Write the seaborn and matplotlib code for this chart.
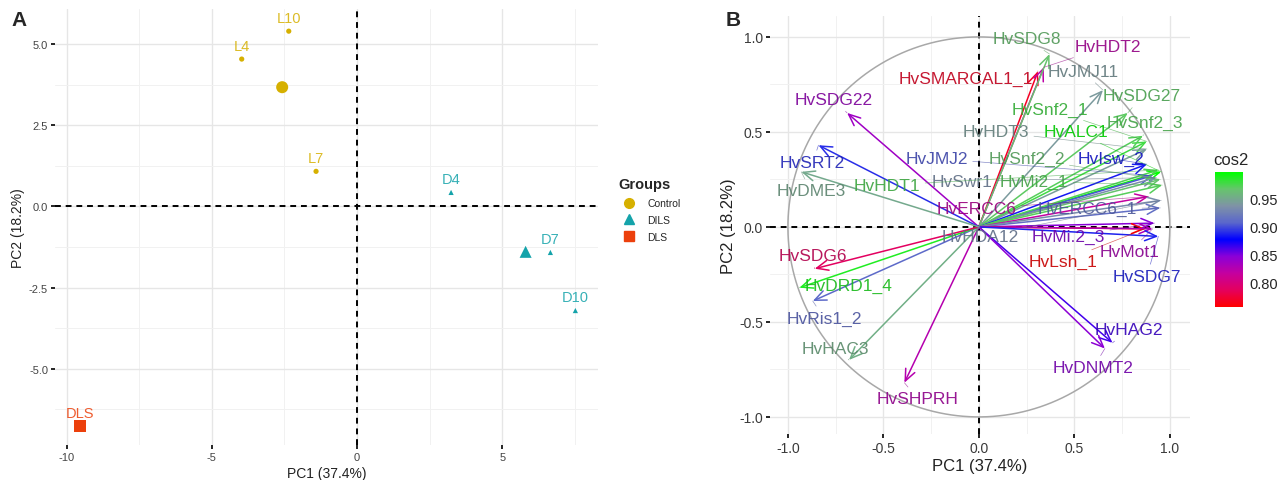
import numpy as np
import pandas as pd
import matplotlib
matplotlib.use("Agg")
import matplotlib.pyplot as plt
import seaborn as sns
from matplotlib.colors import LinearSegmentedColormap, Normalize, to_rgb
from matplotlib.cm import ScalarMappable
from matplotlib.lines import Line2D
from matplotlib.ticker import MultipleLocator

# ---- panel A: individuals on PC1/PC2 ----
samples = ["L4", "L7", "L10", "D4", "D7", "D10", "DLS"]
groups = ["Control", "Control", "Control", "DILS", "DILS", "DILS", "DLS"]
pc1 = [-3.97, -1.41, -2.35, 3.24, 6.66, 7.52, -9.55]
pc2 = [4.54, 1.08, 5.40, 0.43, -1.42, -3.21, -6.76]
group_order = ["Control", "DILS", "DLS"]

# ---- panel B: variable loadings ----
genes = ["HvSMARCAL1_1", "HvHDT2", "HvSDG8", "HvJMJ11", "HvSDG27", "HvSnf2_1",
         "HvSnf2_3", "HvHDT3", "HvALC1", "HvJMJ2", "HvSnf2_2", "HvIsw_2",
         "HvSwr1", "HvMi2_1", "HvHDT1", "HvERCC6", "HvERCC6_1", "HvHDA12",
         "HvMi.2_3", "HvLsh_1", "HvMot1", "HvSDG7", "HvHAG2", "HvDNMT2",
         "HvSHPRH", "HvHAC3", "HvRis1_2", "HvDRD1_4", "HvSDG6", "HvSDG22",
         "HvSRT2", "HvDME3"]
dim1 = [0.31, 0.34, 0.37, 0.65, 0.78, 0.88, 0.86, 0.88, 0.955, 0.91, 0.95, 0.88,
        0.93, 0.96, 0.94, 0.89, 0.95, 0.955, 0.92, 0.87, 0.91, 0.94, 0.70, 0.66,
        -0.39, -0.68, -0.87, -0.94, -0.86, -0.69, -0.84, -0.93]
dim2 = [0.82, 0.84, 0.91, 0.72, 0.60, 0.45, 0.48, 0.41, 0.29, 0.27, 0.25, 0.33,
        0.26, 0.22, 0.30, 0.16, 0.10, 0.14, 0.02, -0.01, -0.01, -0.05, -0.61, -0.64,
        -0.82, -0.70, -0.39, -0.32, -0.22, 0.60, 0.43, 0.29]

# repelled label placement (data units)
label_x = [-0.07, 0.675, 0.25, 0.545, 0.855, 0.37, 0.87, 0.09, 0.51, -0.22, 0.25, 0.69,
           -0.09, 0.29, -0.48, -0.01, 0.57, 0.005, 0.47, 0.44, 0.79, 0.88, 0.785, 0.60,
           -0.32, -0.75, -0.81, -0.68, -0.87, -0.76, -0.87, -0.88]
label_y = [0.78, 0.95, 0.99, 0.82, 0.69, 0.62, 0.55, 0.50, 0.50, 0.36, 0.36, 0.36,
           0.24, 0.24, 0.22, 0.095, 0.095, -0.05, -0.05, -0.18, -0.13, -0.26, -0.54, -0.74,
           -0.905, -0.64, -0.48, -0.31, -0.15, 0.67, 0.34, 0.19]

palette = {"Control": "#D6B000", "DILS": "#14A3AA", "DLS": "#EC400C"}
markers = {"Control": "o", "DILS": "^", "DLS": "s"}

sns.set_theme(style="white")
plt.rcParams["font.family"] = ["Liberation Sans", "DejaVu Sans"]
plt.rcParams["axes.unicode_minus"] = False

fig = plt.figure(figsize=(12.88, 4.81), dpi=100)
axA = fig.add_axes([0.0427, 0.073, 0.4216, 0.906])
axB = fig.add_axes([0.5978, 0.0956, 0.326, 0.869])
cax = fig.add_axes([0.943, 0.3597, 0.0217, 0.2807])

ind = pd.DataFrame({"sample": samples, "group": groups, "PC1": pc1, "PC2": pc2})
centers = ind.groupby("group", sort=False)[["PC1", "PC2"]].mean().reset_index()


def minimal_grid(ax, major, minor):
    ax.xaxis.set_major_locator(MultipleLocator(major[0]))
    ax.yaxis.set_major_locator(MultipleLocator(major[1]))
    ax.xaxis.set_minor_locator(MultipleLocator(minor[0]))
    ax.yaxis.set_minor_locator(MultipleLocator(minor[1]))
    ax.grid(which="major", color="#E6E6E6", lw=1.0)
    ax.grid(which="minor", color="#F1F1F1", lw=0.7)
    ax.set_axisbelow(True)
    for s in ax.spines.values():
        s.set_visible(False)
    ax.tick_params(which="major", length=3, width=1.2, color="black", direction="out",
                   bottom=True, left=True)
    ax.tick_params(which="minor", length=0)


# ---- panel A ----
minimal_grid(axA, (5, 2.5), (2.5, 1.25))
axA.axhline(0, color="black", ls=(0, (3, 2.5)), lw=1.4, zorder=1)
axA.axvline(0, color="black", ls=(0, (3, 2.5)), lw=1.4, zorder=1)
sns.scatterplot(data=ind, x="PC1", y="PC2", hue="group", style="group",
                palette=palette, markers=markers, hue_order=group_order,
                style_order=group_order, s=14, edgecolor="none", legend=False,
                ax=axA, zorder=3)
sns.scatterplot(data=centers, x="PC1", y="PC2", hue="group", style="group",
                palette=palette, markers=markers, hue_order=group_order,
                style_order=group_order, s=75, edgecolor="none", legend=False,
                ax=axA, zorder=4)
for _, r in ind.iterrows():
    axA.annotate(r["sample"], (r["PC1"], r["PC2"]), xytext=(0, 9.5),
                 textcoords="offset points", ha="center", va="center",
                 fontsize=10.5, color=palette[r["group"]], alpha=0.85)
axA.set_xlim(-10.4, 8.3)
axA.set_ylim(-7.35, 6.08)
axA.set_xlabel("PC1 (37.4%)", fontsize=10, color="#222222", labelpad=3)
axA.set_ylabel("PC2 (18.2%)", fontsize=10, color="#222222", labelpad=3)
axA.tick_params(labelsize=8, labelcolor="#444444", pad=2)
axA.set_yticks([-5, -2.5, 0, 2.5, 5])
axA.set_yticklabels(["-5.0", "-2.5", "0.0", "2.5", "5.0"])

handles = [Line2D([], [], marker=markers[g], color=palette[g], ls="none", markersize=7)
           for g in group_order]
leg = axA.legend(handles, group_order, title="Groups", loc="center left",
                 bbox_to_anchor=(1.02, 0.54), frameon=False, fontsize=7.5,
                 title_fontproperties={"weight": "bold", "size": 10.5},
                 handletextpad=0.8, labelspacing=0.65)
leg._legend_box.align = "left"

fig.text(0.009, 0.945, "A", fontsize=15, fontweight="bold")

# ---- panel B ----
minimal_grid(axB, (0.5, 0.5), (0.25, 0.25))
cos2 = np.array(dim1) ** 2 + np.array(dim2) ** 2
cmap = LinearSegmentedColormap.from_list(
    "cos2", ["#FF0000", "#E4005E", "#C400A0", "#8A00D8", "#0000FF",
             "#5A66CC", "#7F93A6", "#66C56C", "#00FF00"])
norm = Normalize(vmin=cos2.min(), vmax=cos2.max())


def text_col(c):
    # label text reads a little darker than the arrow strokes
    r, g, b = to_rgb(cmap(norm(c)))
    return (r * 0.78, g * 0.78, b * 0.78)


theta = np.linspace(0, 2 * np.pi, 400)
sns.lineplot(x=np.cos(theta), y=np.sin(theta), sort=False, estimator=None,
             color="#A8A8A8", lw=1.1, ax=axB, zorder=2)
axB.axhline(0, color="black", ls=(0, (3, 2.5)), lw=1.4, zorder=1)
axB.axvline(0, color="black", ls=(0, (3, 2.5)), lw=1.4, zorder=1)

for g, x, y, c in zip(genes, dim1, dim2, cos2):
    col = cmap(norm(c))
    axB.annotate("", xy=(x, y), xytext=(0, 0),
                 arrowprops=dict(arrowstyle="->,head_length=0.7,head_width=0.3",
                                 color=col, lw=1.1, shrinkA=0, shrinkB=0), zorder=3)
for g, x, y, lx, ly, c in zip(genes, dim1, dim2, label_x, label_y, cos2):
    col = text_col(c)
    axB.annotate(g, xy=(x, y), xytext=(lx, ly), ha="center", va="center",
                 fontsize=12.5, color=col, alpha=0.9, zorder=4,
                 arrowprops=dict(arrowstyle="-", color=col, lw=0.5, alpha=0.6,
                                 shrinkA=1, shrinkB=0))

axB.set_xlim(-1.094, 1.105)
axB.set_ylim(-1.09, 1.11)
axB.set_xticks([-1.0, -0.5, 0.0, 0.5, 1.0])
axB.set_yticks([-1.0, -0.5, 0.0, 0.5, 1.0])
axB.set_xlabel("PC1 (37.4%)", fontsize=12, color="#222222", labelpad=2)
axB.set_ylabel("PC2 (18.2%)", fontsize=12, color="#222222", labelpad=2)
axB.tick_params(labelsize=10, labelcolor="#3A3A3A", pad=2)

fig.text(0.563, 0.945, "B", fontsize=15, fontweight="bold")

cb = fig.colorbar(ScalarMappable(norm=norm, cmap=cmap), cax=cax)
cb.outline.set_visible(False)
cb.set_ticks([0.80, 0.85, 0.90, 0.95])
cb.ax.tick_params(length=4, width=0.8, color="white", direction="in",
                  labelsize=10.5, pad=5)
cax.set_title("cos2", fontsize=12, loc="left", pad=6, x=-0.05)

fig.savefig("out.png", dpi=100)
